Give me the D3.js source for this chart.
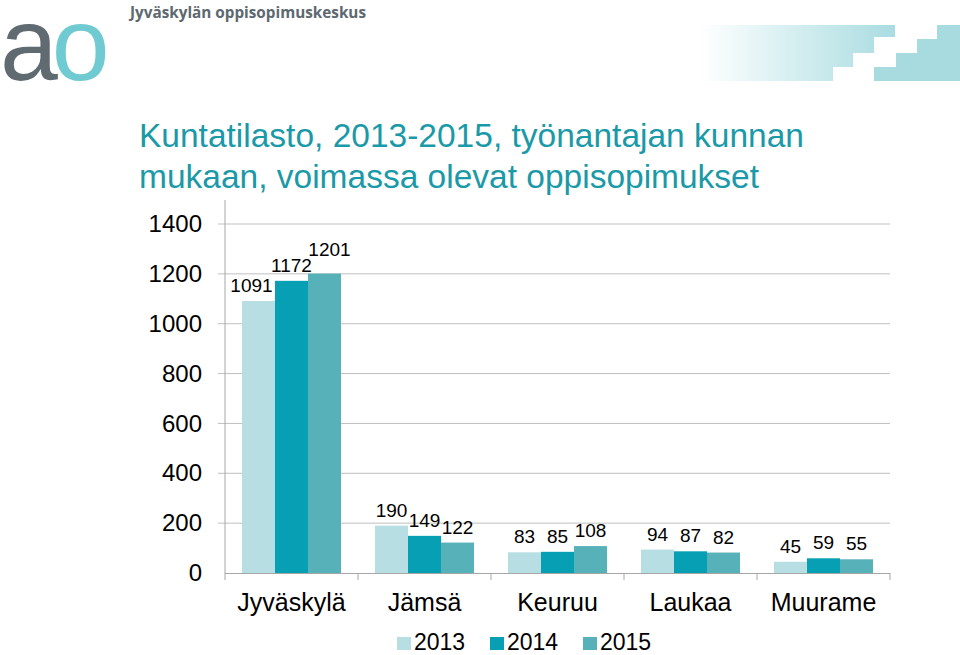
<!DOCTYPE html>
<html>
<head>
<meta charset="utf-8">
<script src="https://cdnjs.cloudflare.com/ajax/libs/d3/7.8.5/d3.min.js"></script>
<style>
  body { margin: 0; background: #fff; }
  svg { display: block; font-family: "Liberation Sans", Arial, sans-serif; }
</style>
</head>
<body>
<div id="chart-area"></div>
<script>
// data
var kunnat = ["Jyväskylä", "Jämsä", "Keuruu", "Laukaa", "Muurame"]
var vuodet = ["2013", "2014", "2015"]
var v2013 = [1091, 190, 83, 94, 45]
var v2014 = [1172, 149, 85, 87, 59]
var v2015 = [1201, 122, 108, 82, 55]
var yTicks = [0, 200, 400, 600, 800, 1000, 1200, 1400]

var colors = ["#b7dee3", "#079fb4", "#57b1b8"]
var series = [v2013, v2014, v2015]

var width = 960
var height = 655

var svg = d3.select("#chart-area")
  .append("svg")
  .attr("width", width)
  .attr("height", height)

// header: logo + stairs
svg.append("text")
  .attr("x", 130).attr("y", 18)
  .attr("font-size", "16px")
  .attr("font-weight", "bold")
  .attr("font-family", "Open Sans, sans-serif")
  .attr("textLength", 236)
  .attr("lengthAdjust", "spacingAndGlyphs")
  .style("fill", "#5d6870")
  .text("Jyväskylän oppisopimuskeskus")

var logo = svg.append("text")
  .attr("x", 0).attr("y", 80)
  .attr("font-size", "104px")
logo.append("tspan").style("fill", "#5f6a71").text("a")
logo.append("tspan").attr("dx", -6).style("fill", "#6fcbd1").text("o")

var defs = svg.append("defs")
var grad = defs.append("linearGradient")
  .attr("id", "fade")
  .attr("gradientUnits", "userSpaceOnUse")
  .attr("x1", 700).attr("x2", 895).attr("y1", 0).attr("y2", 0)
grad.append("stop").attr("offset", "0%").attr("stop-color", "#ffffff")
grad.append("stop").attr("offset", "100%").attr("stop-color", "#a9dce1")

svg.append("path")
  .attr("d", "M700,25 H895 V37 H874 V53 H853 V67 H833 V81 H700 Z")
  .attr("fill", "url(#fade)")
svg.append("path")
  .attr("d", "M874,81 V67 H896 V53 H917 V39 H937 V25 H960 V81 Z")
  .attr("fill", "#a7dbe0")

// title
var title = svg.append("text")
  .attr("x", 139)
  .attr("font-size", "33.5px")
  .style("fill", "#1a99a8")
title.append("tspan").attr("x", 139).attr("y", 147).text("Kuntatilasto, 2013-2015, työnantajan kunnan")
title.append("tspan").attr("x", 139).attr("y", 188).text("mukaan, voimassa olevat oppisopimukset")

// scales
var x0 = d3.scaleBand().domain(kunnat).range([225, 890]).paddingInner(0).paddingOuter(0)
var x1 = d3.scaleBand().domain(vuodet).range([0, x0.bandwidth()]).paddingInner(0).paddingOuter(0.515)
var y = d3.scaleLinear().domain([0, 1400]).range([573, 224])

// gridlines
svg.append("g")
  .selectAll("line")
  .data(yTicks.slice(1))
  .enter()
  .append("line")
  .attr("x1", 218).attr("x2", 890)
  .attr("y1", d => y(d)).attr("y2", d => y(d))
  .attr("stroke", "#bfbfbf")
  .attr("stroke-width", 1)

// y axis line
svg.append("line")
  .attr("x1", 225).attr("x2", 225)
  .attr("y1", 200).attr("y2", y(0))
  .attr("stroke", "#a6a6a6")

var leftAxis = d3.axisLeft(y).tickValues(yTicks).tickSize(0).tickPadding(23).tickFormat(d3.format("d"))
var gy = svg.append("g")
  .attr("transform", "translate(225,0)")
  .call(leftAxis)
gy.select(".domain").remove()
gy.selectAll("text")
  .attr("font-size", "24px")
  .attr("font-family", "Liberation Sans, Arial, sans-serif")
  .style("fill", "#000")

// bars
var groups = svg.append("g")
  .selectAll("g")
  .data(kunnat)
  .enter()
  .append("g")
  .attr("transform", d => `translate(${x0(d)},0)`)

vuodet.forEach((yr, s) => {
  groups.append("rect")
    .attr("x", x1(yr))
    .attr("y", (d, i) => y(series[s][i]))
    .attr("width", x1.bandwidth())
    .attr("height", (d, i) => y(0) - y(series[s][i]))
    .attr("fill", colors[s])
})

// value labels: push up / sideways when they run into the one before
var fs = 19
groups.each(function(d, i) {
  var g = d3.select(this)
  var prev = null
  vuodet.forEach((yr, s) => {
    var cx = x1(yr) + x1.bandwidth() / 2
    var base = y(series[s][i]) - 9
    var t = g.append("text")
      .attr("x", cx)
      .attr("y", base)
      .attr("text-anchor", "middle")
      .attr("font-size", fs + "px")
      .style("fill", "#000")
      .text(series[s][i])
    var w = t.node().getComputedTextLength()
    var box = {l: cx - w / 2, r: cx + w / 2, top: base - 0.72 * fs, bot: base, t: t}
    if (prev && prev.r > box.l) {
      if (box.bot > prev.top) {
        var shift = box.bot - prev.top + 2
        t.attr("y", base - shift).attr("dx", 5)
        box = {l: box.l + 5, r: box.r + 5, top: box.top - shift, bot: box.bot - shift, t: t}
      } else if (box.bot > prev.top - 10) {
        prev.t.attr("dx", -7)
      }
    }
    prev = box
  })
})

// x axis
var bottomAxis = d3.axisBottom(x0).tickSize(0).tickPadding(20)
var gx = svg.append("g")
  .attr("transform", `translate(0,${y(0)})`)
  .call(bottomAxis)
gx.select(".domain").attr("stroke", "#a6a6a6").attr("d", "M225,0.5H890")
gx.selectAll("text")
  .attr("font-size", "25px")
  .attr("font-family", "Liberation Sans, Arial, sans-serif")
  .style("fill", "#000")
gx.selectAll(".sep")
  .data(d3.range(kunnat.length + 1))
  .enter()
  .append("line")
  .attr("class", "sep")
  .attr("x1", i => 225 + i * x0.step()).attr("x2", i => 225 + i * x0.step())
  .attr("y1", 0).attr("y2", 7)
  .attr("stroke", "#a6a6a6")

// legend
var legend = svg.append("g")
  .selectAll("g")
  .data(vuodet)
  .enter()
  .append("g")
  .attr("transform", (d, i) => `translate(${397 + i * 93},0)`)
legend.append("rect")
  .attr("x", 0).attr("y", 637)
  .attr("width", 14).attr("height", 13)
  .attr("fill", (d, i) => colors[i])
legend.append("text")
  .attr("x", 17).attr("y", 650)
  .attr("font-size", "23px")
  .style("fill", "#000")
  .text(d => d)
</script>
</body>
</html>
